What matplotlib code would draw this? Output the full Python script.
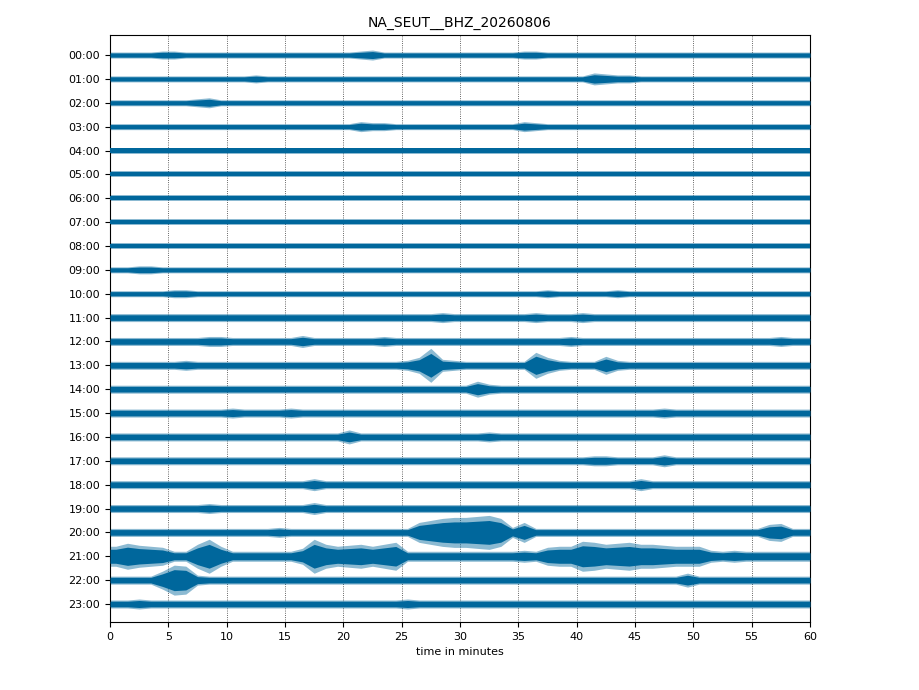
import numpy as np
import matplotlib
matplotlib.use("Agg")
import matplotlib.pyplot as plt

# station / day shown in the title
station = "NA_SEUT__BHZ_20260806"

# hour labels, one trace per hour
hours = ["%02d:00" % h for h in range(24)]

# peak amplitude of each trace, one value per minute (0..59),
# read off the picture in units of 1/24 of the row spacing
amp_00 = [3,3,3,3,4,4,3,3,3,3, 3,3,3,3,3,3,3,3,3,3, 3,4,5,3,3,3,3,3,3,3, 3,3,3,3,3,4,4,3,3,3, 3,3,3,3,3,3,3,3,3,3, 3,3,3,3,3,3,3,3,3,3]
amp_01 = [3,3,3,3,3,3,3,3,3,3, 3,3,4,3,3,3,3,3,3,3, 3,3,3,3,3,3,3,3,3,3, 3,3,3,3,3,3,3,3,3,3, 3,6,5,4,4,3,3,3,3,3, 3,3,3,3,3,3,3,3,3,3]
amp_02 = [3,3,3,3,3,3,3,4,5,3, 3,3,3,3,3,3,3,3,3,3, 3,3,3,3,3,3,3,3,3,3, 3,3,3,3,3,3,3,3,3,3, 3,3,3,3,3,3,3,3,3,3, 3,3,3,3,3,3,3,3,3,3]
amp_03 = [3,3,3,3,3,3,3,3,3,3, 3,3,3,3,3,3,3,3,3,3, 3,5,4,4,3,3,3,3,3,3, 3,3,3,3,3,5,4,3,3,3, 3,3,3,3,3,3,3,3,3,3, 3,3,3,3,3,3,3,3,3,3]
amp_04 = [3,3,3,3,3,3,3,3,3,3, 3,3,3,3,3,3,3,3,3,3, 3,3,3,3,3,3,3,3,3,3, 3,3,3,3,3,3,3,3,3,3, 3,3,3,3,3,3,3,3,3,3, 3,3,3,3,3,3,3,3,3,3]
amp_05 = [3,3,3,3,3,3,3,3,3,3, 3,3,3,3,3,3,3,3,3,3, 3,3,3,3,3,3,3,3,3,3, 3,3,3,3,3,3,3,3,3,3, 3,3,3,3,3,3,3,3,3,3, 3,3,3,3,3,3,3,3,3,3]
amp_06 = [3,3,3,3,3,3,3,3,3,3, 3,3,3,3,3,3,3,3,3,3, 3,3,3,3,3,3,3,3,3,3, 3,3,3,3,3,3,3,3,3,3, 3,3,3,3,3,3,3,3,3,3, 3,3,3,3,3,3,3,3,3,3]
amp_07 = [3,3,3,3,3,3,3,3,3,3, 3,3,3,3,3,3,3,3,3,3, 3,3,3,3,3,3,3,3,3,3, 3,3,3,3,3,3,3,3,3,3, 3,3,3,3,3,3,3,3,3,3, 3,3,3,3,3,3,3,3,3,3]
amp_08 = [3,3,3,3,3,3,3,3,3,3, 3,3,3,3,3,3,3,3,3,3, 3,3,3,3,3,3,3,3,3,3, 3,3,3,3,3,3,3,3,3,3, 3,3,3,3,3,3,3,3,3,3, 3,3,3,3,3,3,3,3,3,3]
amp_09 = [3,3,4,4,3,3,3,3,3,3, 3,3,3,3,3,3,3,3,3,3, 3,3,3,3,3,3,3,3,3,3, 3,3,3,3,3,3,3,3,3,3, 3,3,3,3,3,3,3,3,3,3, 3,3,3,3,3,3,3,3,3,3]
amp_10 = [3,3,3,3,3,4,4,3,3,3, 3,3,3,3,3,3,3,3,3,3, 3,3,3,3,3,3,3,3,3,3, 3,3,3,3,3,3,3,4,3,3, 3,3,3,4,3,3,3,3,3,3, 3,3,3,3,3,3,3,3,3,3]
amp_11 = [4,4,4,4,4,4,4,4,4,4, 4,4,4,4,4,4,4,4,4,4, 4,4,4,4,4,4,4,4,5,4, 4,4,4,4,4,4,5,4,4,4, 5,4,4,4,4,4,4,4,4,4, 4,4,4,4,4,4,4,4,4,4]
amp_12 = [4,4,4,4,4,4,4,4,5,5, 4,4,4,4,4,4,6,4,4,4, 4,4,4,5,4,4,4,4,4,4, 4,4,4,4,4,4,4,4,4,5, 4,4,4,4,4,4,4,4,4,4, 4,4,4,4,4,4,4,5,4,4]
amp_13 = [4,4,4,4,4,4,5,4,4,4, 4,4,4,4,4,4,4,4,4,4, 4,4,4,4,4,5,8,17,6,5, 4,4,4,4,4,4,13,8,5,4, 4,4,9,5,4,4,4,4,4,4, 4,4,4,4,4,4,4,4,4,4]
amp_14 = [4,4,4,4,4,4,4,4,4,4, 4,4,4,4,4,4,4,4,4,4, 4,4,4,4,4,4,4,4,4,4, 4,8,5,4,4,4,4,4,4,4, 4,4,4,4,4,4,4,4,4,4, 4,4,4,4,4,4,4,4,4,4]
amp_15 = [4,4,4,4,4,4,4,4,4,4, 5,4,4,4,4,5,4,4,4,4, 4,4,4,4,4,4,4,4,4,4, 4,4,4,4,4,4,4,4,4,4, 4,4,4,4,4,4,4,5,4,4, 4,4,4,4,4,4,4,4,4,4]
amp_16 = [4,4,4,4,4,4,4,4,4,4, 4,4,4,4,4,4,4,4,4,4, 7,4,4,4,4,4,4,4,4,4, 4,4,5,4,4,4,4,4,4,4, 4,4,4,4,4,4,4,4,4,4, 4,4,4,4,4,4,4,4,4,4]
amp_17 = [4,4,4,4,4,4,4,4,4,4, 4,4,4,4,4,4,4,4,4,4, 4,4,4,4,4,4,4,4,4,4, 4,4,4,4,4,4,4,4,4,4, 4,5,5,4,4,4,4,6,4,4, 4,4,4,4,4,4,4,4,4,4]
amp_18 = [4,4,4,4,4,4,4,4,4,4, 4,4,4,4,4,4,4,6,4,4, 4,4,4,4,4,4,4,4,4,4, 4,4,4,4,4,4,4,4,4,4, 4,4,4,4,4,6,4,4,4,4, 4,4,4,4,4,4,4,4,4,4]
amp_19 = [4,4,4,4,4,4,4,4,5,4, 4,4,4,4,4,4,4,6,4,4, 4,4,4,4,4,4,4,4,4,4, 4,4,4,4,4,4,4,4,4,4, 4,4,4,4,4,4,4,4,4,4, 4,4,4,4,4,4,4,4,4,4]
amp_20 = [4,4,4,4,4,4,4,4,4,4, 4,4,4,4,5,4,4,4,4,4, 4,4,4,4,4,4,10,12,14,15, 15,16,17,14,5,10,4,4,4,4, 4,4,4,4,4,4,4,4,4,4, 4,4,4,4,4,4,8,9,4,4]
amp_21 = [10,13,11,10,9,5,5,12,17,10, 5,5,5,5,5,5,8,17,12,10, 11,12,10,12,14,5,5,5,5,5, 5,5,5,5,5,6,5,9,10,10, 15,14,12,13,14,12,12,11,10,10, 10,6,5,6,5,5,5,5,5,5]
amp_22 = [4,4,4,4,9,15,14,5,4,4, 4,4,4,4,4,4,4,4,4,4, 4,4,4,4,4,4,4,4,4,4, 4,4,4,4,4,4,4,4,4,4, 4,4,4,4,4,4,4,4,4,7, 4,4,4,4,4,4,4,4,4,4]
amp_23 = [4,4,5,4,4,4,4,4,4,4, 4,4,4,4,4,4,4,4,4,4, 4,4,4,4,4,5,4,4,4,4, 4,4,4,4,4,4,4,4,4,4, 4,4,4,4,4,4,4,4,4,4, 4,4,4,4,4,4,4,4,4,4]

amps = [amp_00, amp_01, amp_02, amp_03, amp_04, amp_05, amp_06, amp_07,
        amp_08, amp_09, amp_10, amp_11, amp_12, amp_13, amp_14, amp_15,
        amp_16, amp_17, amp_18, amp_19, amp_20, amp_21, amp_22, amp_23]

minutes = np.arange(60) + 0.5
color = "#00679c"

fig = plt.figure(figsize=(9.2, 6.9), dpi=100)
ax = fig.add_axes([110 / 920, 68 / 690, 700 / 920, 587 / 690])

# one row per hour, first hour on top
for i, a in enumerate(amps):
    row = 23 - i
    a = np.asarray(a, dtype=float) / 23.87
    x = np.concatenate([[0], minutes, [60]])
    env = np.concatenate([[a[0]], a, [a[-1]]])
    ax.fill_between(x, row - env, row + env, color=color, alpha=0.45,
                    linewidth=0, zorder=2)
    ax.fill_between(x, row - env * 0.7, row + env * 0.7, color=color,
                    linewidth=0, zorder=3)

ax.set_xlim(0, 60)
ax.set_ylim(-0.754, 23.84)
ax.set_xticks(range(0, 61, 5))
ax.set_yticks(range(24))
ax.set_yticklabels(hours[::-1])
ax.tick_params(labelsize=8)
ax.set_xlabel("time in minutes", fontsize=8)
ax.set_title(station, fontsize=10)

ax.grid(axis="x", linestyle=":", color="0.2", linewidth=0.6)
ax.set_axisbelow(True)

fig.savefig("out.png", dpi=100)
